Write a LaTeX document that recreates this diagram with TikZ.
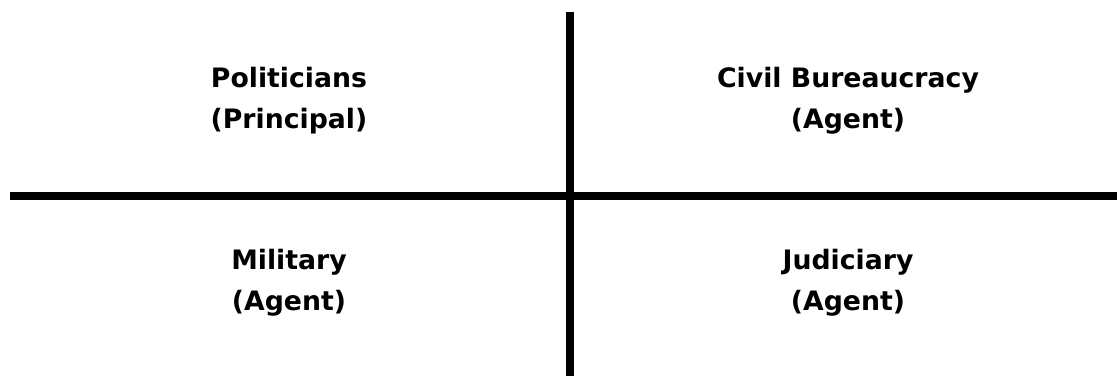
\documentclass[tikz,border=0pt]{standalone}
\usepackage{fontspec}
\setmainfont{DejaVu Sans}
\begin{document}
\begin{tikzpicture}[x=0.025cm, y=-0.025cm,
  cell/.style={align=center, anchor=base, font=\bfseries\fontsize{19}{28.45}\selectfont},
  bar/.style={line width=0.2cm}]
\useasboundingbox (0,0) rectangle (1117,376);
\coordinate (top) at (570,12);
\coordinate (bottom) at (570,376);
\coordinate (left) at (9.5,196);
\coordinate (right) at (1117,196);
\draw[bar] (top) -- (bottom);
\draw[bar] (left) -- (right);
% base anchor sits on the second line
\node[cell] (pol) at (289,128) {Politicians\\(Principal)};
\node[cell] (civ) at (848,128) {Civil Bureaucracy\\(Agent)};
\node[cell] (mil) at (289,310) {Military\\(Agent)};
\node[cell] (jud) at (848,310) {Judiciary\\(Agent)};
\end{tikzpicture}
\end{document}
